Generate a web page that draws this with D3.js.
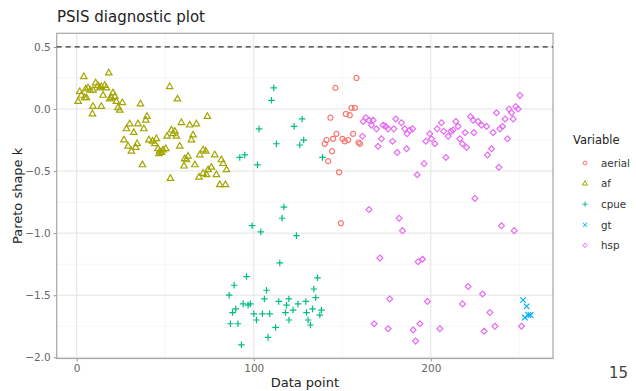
<!DOCTYPE html>
<html>
<head>
<meta charset="utf-8">
<script src="https://cdn.jsdelivr.net/npm/d3@7"></script>
<style>
  body { margin: 0; background: #fff; }
  text { font-family: "DejaVu Sans", sans-serif; }
</style>
</head>
<body>
<div id="chart"></div>
<script>
// data: [data point index, pareto k]
var af = [[0.8,0.06],[1.7,0.14],[2.6,0.11],[4.0,0.26],[4.5,0.09],[5.1,0.16],[5.5,0.09],[6.4,0.17],[7.7,0.15],[8.9,-0.04],[9.2,0.15],[9.2,0.02],[10.7,0.21],[12.0,0.19],[13.0,0.17],[13.9,0.18],[13.9,0.02],[14.9,0.11],[15.8,0.19],[16.8,0.17],[18.1,0.29],[18.6,0.08],[19.6,0.09],[20.5,0.13],[21.5,0.10],[22.4,0.06],[23.3,0.01],[24.3,-0.01],[25.8,0.05],[26.7,-0.25],[28.1,-0.16],[29.0,-0.30],[29.9,-0.12],[30.9,-0.34],[32.2,-0.19],[33.3,-0.31],[34.1,-0.28],[34.6,-0.12],[36.0,0.04],[37.1,-0.45],[37.9,-0.16],[39.0,-0.09],[39.7,-0.06],[40.8,-0.25],[42.8,-0.26],[44.1,-0.28],[45.0,-0.24],[45.9,-0.32],[46.5,-0.36],[46.9,-0.34],[47.9,-0.35],[48.8,-0.33],[50.3,-0.32],[51.0,-0.22],[52.5,0.18],[52.9,-0.56],[53.5,-0.17],[54.4,-0.20],[55.4,-0.18],[56.3,-0.22],[56.9,0.08],[58.2,-0.30],[59.1,-0.11],[60.6,-0.46],[61.0,-0.40],[62.0,-0.41],[62.9,-0.38],[63.8,-0.13],[64.8,-0.25],[65.7,-0.21],[66.7,-0.45],[67.6,-0.12],[69.1,-0.55],[69.5,-0.37],[71.4,-0.33],[71.4,-0.52],[72.9,-0.34],[73.3,-0.53],[73.8,-0.06],[74.2,-0.49],[76.1,-0.47],[78.0,-0.37],[78.9,-0.53],[80.8,-0.61],[81.7,-0.41],[82.7,-0.44],[84.0,-0.61],[84.6,-0.49]];

var cpue = [[86.1,-1.50],[86.8,-1.73],[88.0,-1.64],[88.9,-1.42],[89.8,-1.61],[91.1,-1.73],[92.1,-0.39],[93.0,-1.90],[94.0,-1.57],[94.9,-0.37],[95.9,-1.35],[96.8,-1.58],[98.1,-1.57],[99.1,-0.94],[100.0,-1.65],[101.5,-1.70],[102.1,-0.45],[103.0,-0.16],[104.0,-0.99],[104.9,-1.65],[106.0,-1.53],[107.2,-1.46],[108.1,-1.84],[109.0,-1.65],[110.0,0.07],[111.3,0.17],[112.3,-1.76],[112.8,-0.28],[114.1,-1.55],[114.7,-1.24],[116.0,-0.88],[117.0,-0.79],[117.9,-1.64],[118.5,-1.58],[119.8,-1.53],[119.9,-1.70],[122.2,-1.62],[122.8,-0.14],[124.1,-1.02],[125.0,-1.57],[126.0,-0.29],[127.3,-0.08],[128.2,-0.25],[129.4,-1.55],[129.8,-1.64],[130.7,-1.70],[132.0,-1.74],[133.2,-1.61],[133.9,-1.45],[135.0,-1.52],[136.0,-1.36],[137.3,-1.66],[138.2,-1.62],[138.8,-0.39]];

var aerial = [[140.1,-0.28],[141.1,-0.25],[142.0,-0.42],[143.3,-0.07],[144.2,-0.34],[144.8,-0.24],[146.1,0.17],[146.7,-0.20],[148.2,-0.51],[149.2,-0.92],[150.1,-0.24],[151.4,-0.26],[152.0,-0.04],[153.3,-0.25],[154.2,-0.05],[155.2,0.01],[156.1,-0.20],[157.1,0.01],[158.0,0.25],[159.2,-0.27],[160.0,-0.28]];

var hsp = [[161.4,-0.22],[161.8,-0.10],[163.3,-0.07],[165.1,-0.09],[165.1,-0.81],[166.5,-0.13],[167.4,-0.09],[168.0,-1.73],[169.3,-0.16],[170.2,-0.30],[171.2,-1.20],[172.1,-0.24],[173.1,-0.13],[174.6,-0.14],[175.9,-0.16],[175.9,-1.77],[176.8,-1.53],[178.4,-0.26],[179.1,-0.16],[180.2,-0.08],[181.0,-0.35],[182.1,-0.88],[183.4,-0.11],[184.0,-0.98],[185.3,-0.16],[186.3,-0.32],[186.6,-0.20],[188.1,-0.17],[189.7,-0.16],[190.0,-1.78],[191.4,-1.87],[192.3,-0.53],[192.8,-1.23],[193.8,-1.73],[195.3,-1.21],[196.2,-0.44],[197.2,-0.26],[198.1,-1.55],[199.4,-0.20],[200.4,-0.24],[202.3,-0.28],[203.6,-0.16],[205.1,-1.77],[206.0,-0.11],[207.3,-0.18],[208.5,-0.39],[209.8,-0.22],[211.3,-0.18],[212.6,-0.17],[214.1,-0.10],[215.4,-0.14],[216.4,-0.24],[217.9,-0.28],[217.9,-1.57],[219.4,-0.19],[220.2,-0.31],[221.1,-1.43],[222.4,-0.06],[223.9,-0.09],[224.3,-0.19],[224.9,-0.72],[226.7,-0.10],[228.6,-0.13],[229.2,-1.49],[230.1,-1.79],[231.5,-0.14],[232.0,-0.37],[233.3,-1.64],[234.3,-0.32],[235.2,-0.19],[236.2,-1.75],[237.1,-0.03],[238.4,-0.47],[239.0,-0.16],[239.9,-0.94],[240.5,-0.14],[242.0,-0.08],[243.3,-0.24],[244.2,0.00],[245.6,-0.03],[246.5,-0.08],[247.1,-0.98],[248.0,0.02],[249.3,0.00],[250.3,0.11],[251.2,-1.75]];

var gt = [[252.1,-1.54],[253.1,-1.68],[254.1,-1.59],[255.0,-1.66],[256.3,-1.66]];

var variables = ["aerial", "af", "cpue", "gt", "hsp"];
var seriesData = [aerial, af, cpue, gt, hsp];
var colours = ["#F8766D", "#A3A500", "#00BF7D", "#00B0F6", "#E76BF3"];
var xTicks = [0, 100, 200];
var xMinor = [50, 150, 250];
var yTicks = [0.5, 0, -0.5, -1, -1.5, -2];
var yMinor = [0.25, -0.25, -0.75, -1.25, -1.75];
var threshold = 0.5;

var margin = {top: 33.3, right: 83, bottom: 32.5, left: 56.7},
    width = 636 - margin.left - margin.right,
    height = 391 - margin.top - margin.bottom;

var svg = d3.select("#chart")
  .append("svg")
    .attr("width", 636)
    .attr("height", 391)
  .append("g")
    .attr("transform", "translate(" + margin.left + "," + margin.top + ")");

var x = d3.scaleLinear().domain([-11.3, 269.0]).range([0, width]);
var y = d3.scaleLinear().domain([-2.01, 0.61]).range([height, 0]);

// grid
svg.selectAll(".minx").data(xMinor).enter().append("line")
  .attr("x1", d => x(d)).attr("x2", d => x(d)).attr("y1", 0).attr("y2", height)
  .attr("stroke", "#f0f0f0").attr("stroke-width", 0.6);
svg.selectAll(".miny").data(yMinor).enter().append("line")
  .attr("y1", d => y(d)).attr("y2", d => y(d)).attr("x1", 0).attr("x2", width)
  .attr("stroke", "#f0f0f0").attr("stroke-width", 0.6);
svg.selectAll(".majx").data(xTicks).enter().append("line")
  .attr("x1", d => x(d)).attr("x2", d => x(d)).attr("y1", 0).attr("y2", height)
  .attr("stroke", "#e4e4e4").attr("stroke-width", 1);
svg.selectAll(".majy").data(yTicks).enter().append("line")
  .attr("y1", d => y(d)).attr("y2", d => y(d)).attr("x1", 0).attr("x2", width)
  .attr("stroke", "#e4e4e4").attr("stroke-width", 1);

// axes
var xAxis = svg.append("g")
  .attr("transform", "translate(0," + height + ")")
  .call(d3.axisBottom(x).tickValues(xTicks).tickSize(3).tickPadding(3).tickFormat(d3.format("d")));
var yAxis = svg.append("g")
  .call(d3.axisLeft(y).tickValues(yTicks).tickSize(3).tickPadding(3).tickFormat(d3.format(".1f")));
[xAxis, yAxis].forEach(function(a){
  a.select(".domain").remove();
  a.selectAll("line").attr("stroke", "#999");
  a.selectAll("text").attr("fill", "#666").style("font-size", "10.5px")
    .style("font-family", "DejaVu Sans, sans-serif");
});

svg.append("rect")
  .attr("width", width).attr("height", height)
  .attr("fill", "none").attr("stroke", "#a6a6a6").attr("stroke-width", 1.2);

// threshold
svg.append("line")
  .attr("x1", 0).attr("x2", width)
  .attr("y1", y(threshold)).attr("y2", y(threshold))
  .attr("stroke", "#333").attr("stroke-width", 1.2)
  .attr("stroke-dasharray", "5,4");

var shapes = [d3.symbolCircle, d3.symbolTriangle2, d3.symbolPlus, d3.symbolTimes, d3.symbolDiamond2];
var sizes = [20, 30, 16, 22, 22];

seriesData.forEach(function(data, i){
  svg.append("g").selectAll("path")
    .data(data)
    .enter().append("path")
      .attr("transform", d => "translate(" + x(d[0]) + "," + y(d[1]) + ")")
      .attr("d", d3.symbol().type(shapes[i]).size(sizes[i]))
      .attr("fill", "none")
      .attr("stroke", colours[i])
      .attr("stroke-width", 1.2);
});

var root = d3.select("#chart svg");

root.append("text").attr("x", 57).attr("y", 22)
  .style("font-size", "15px").attr("fill", "#222").text("PSIS diagnostic plot");

root.append("text")
  .attr("x", margin.left + width / 2).attr("y", 387)
  .attr("text-anchor", "middle").style("font-size", "13px").attr("fill", "#222")
  .text("Data point");

root.append("text")
  .attr("transform", "translate(22," + (margin.top + height / 2) + ") rotate(-90)")
  .attr("text-anchor", "middle").style("font-size", "13px").attr("fill", "#222")
  .text("Pareto shape k");

// legend
var legend = root.append("g").attr("transform", "translate(573,0)");
legend.append("text").attr("x", 0).attr("y", 144)
  .style("font-size", "11.5px").attr("fill", "#222").text("Variable");
variables.forEach(function(v, i){
  var cy = 163 + i * 20.6;
  legend.append("path")
    .attr("transform", "translate(12," + cy + ")")
    .attr("d", d3.symbol().type(shapes[i]).size(sizes[i] * 0.6))
    .attr("fill", "none").attr("stroke", colours[i]).attr("stroke-width", 1);
  legend.append("text").attr("x", 28).attr("y", cy + 3.8)
    .style("font-size", "10.3px").attr("fill", "#333").text(v);
});

root.append("text").attr("x", 628).attr("y", 378)
  .attr("text-anchor", "end").style("font-size", "15px").attr("fill", "#444").text("15");
</script>
</body>
</html>
